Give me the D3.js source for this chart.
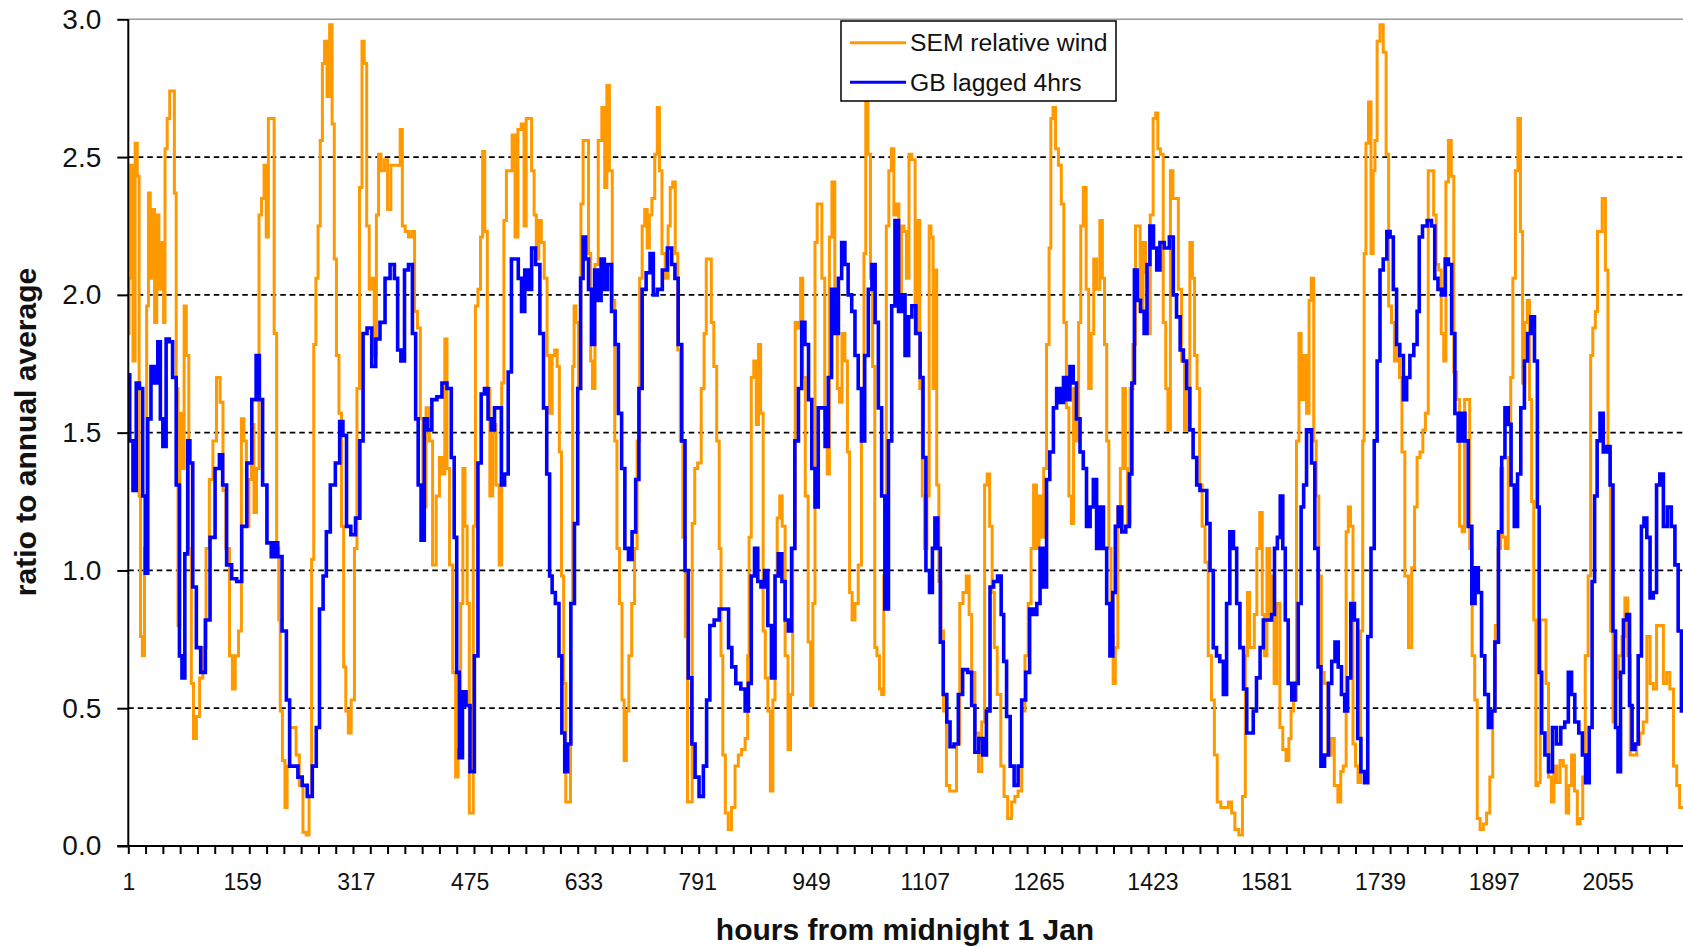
<!DOCTYPE html>
<html>
<head>
<meta charset="utf-8">
<script src="https://cdn.jsdelivr.net/npm/d3@7"></script>
<style>
  body { margin: 0; background: #fff; }
  svg { display: block; font-family: "Liberation Sans", Arial, sans-serif; }
</style>
</head>
<body>
<svg id="chart" width="1683" height="947"></svg>
<script>
// SEM relative wind — hour, ratio
const semHours = [
  1,3,6,9,12,15,17,19,22,25,28,30,33,36,39,42,45,49,51,53,57,60,64,66,69,71,74,77,80,83,87,90,93,98,
  102,107,111,116,121,126,131,134,139,144,147,152,156,160,163,167,170,174,177,181,184,188,191,194,197,
  202,205,209,211,213,217,220,223,227,232,236,241,246,250,254,257,260,263,266,269,272,275,279,282,286,
  288,292,295,299,301,305,308,313,317,320,324,327,330,334,337,341,344,347,350,354,359,363,368,373,377,
  380,383,388,392,397,400,405,408,412,417,421,426,431,435,439,442,445,449,454,457,461,464,467,470,473,
  476,479,481,485,488,492,494,498,501,505,509,514,518,521,524,528,532,536,540,544,
  549,552,555,559,563,566,569,573,576,581,584,588,591,595,598,601,604,607,610,613,617,619,621,624,628,
  631,634,638,642,644,647,651,656,661,664,667,671,675,678,681,685,688,691,694,698,702,706,709,713,716,
  720,723,726,730,734,737,740,744,749,752,755,759,762,766,769,773,776,779,782,786,789,794,799,802,805,
  809,812,816,820,823,825,828,832,836,841,846,850,855,860,862,864,868,871,875,877,881,884,887,891,894,
  898,900,904,907,911,915,919,922,925,929,933,936,939,943,947,950,953,956,959,962,966,970,973,976,980,
  984,987,990,994,998,1001,1004,1008,1012,1017,1021,1024,1026,1030,1033,1036,1039,1042,1046,1048,1052,
  1055,1059,1062,1066,1069,1073,1076,1080,1083,1087,1091,
  1096,1098,1102,1105,1108,1112,1114,1117,1120,1122,1125,1128,1131,1135,1139,1144,1149,1153,1158,1162,
  1167,1170,1174,1179,1184,1188,1192,1195,1199,1202,1205,1210,1215,1219,1225,1230,1234,1239,1244,1248,
  1253,1256,1260,1264,1267,1270,1274,1278,1281,1283,1287,1290,1295,1298,1302,1305,1309,1312,1315,1319,
  1322,1325,1329,1333,1336,1340,1343,1348,1352,1355,1358,1361,1364,1367,1370,1373,1377,1380,1384,1387,
  1390,1394,1398,1401,1404,1408,1412,1415,1418,1422,1426,1429,1432,1436,1440,1443,1446,1450,1453,1457,
  1461,1466,1469,1473,1477,1480,1483,1487,1490,1494,1498,1503,1507,1511,1515,1521,1526,1531,1535,1540,
  1546,1550,1554,1556,1560,1563,1566,1570,1574,1577,1580,1584,1588,1591,1593,1598,1602,1606,1611,1614,
  1617,1621,1625,1628,1631,1635,1639,1642,1645,
  1649,1652,1656,1659,1664,1669,1673,1678,1683,1686,1690,1694,1696,1700,1703,1707,1710,1714,1716,1718,
  1721,1725,1728,1731,1733,1737,1741,1746,1749,1753,1757,1761,1764,1768,1771,1776,1781,1785,1789,1792,
  1797,1800,1804,1808,1812,1815,1819,1822,1826,1829,1832,1836,1840,1843,1848,1851,1855,1858,1862,1865,
  1869,1872,1876,1880,1885,1889,1894,1897,1901,1905,1908,1911,1915,1919,1922,1925,1929,1932,1936,1938,
  1942,1945,1948,1951,1954,1957,1960,1963,1968,1971,1975,1979,1982,1987,1991,1996,1999,2003,2007,2011,
  2015,2019,2022,2026,2030,2033,2036,2040,2042,2045,2050,2054,2057,2061,2064,2068,2073,2077,2081,2085,
  2088,2093,2098,2102,2107,2112,2116,2121,2125,2130,2135,2139,2144,2149,2153,2157,2160
];
const semValues = [
  1.86,2.06,2.47,1.76,2.55,2.43,1.27,0.76,0.69,1.08,1.96,2.37,2.06,2.31,1.90,2.29,2.02,2.19,1.90,2.53,2.64,2.74,2.74,2.37,1.66,0.80,1.57,1.37,1.96,1.78,1.08,0.59,0.39,0.47,
  0.61,0.72,1.08,1.33,1.47,1.70,1.61,1.29,1.08,0.69,0.57,0.69,0.78,1.55,1.47,1.16,1.33,1.53,1.21,1.37,2.29,2.35,2.47,2.21,2.64,
  2.64,1.86,1.08,0.82,0.49,0.31,0.14,0.29,0.43,0.43,0.33,0.22,0.05,0.04,0.18,1.04,1.82,2.06,2.25,2.56,2.84,2.92,2.72,2.98,2.62,
  2.13,1.78,1.57,1.16,0.65,0.49,0.41,0.53,1.08,1.66,2.39,2.92,2.84,2.25,2.02,2.06,1.78,2.29,2.51,2.45,2.49,2.31,2.47,2.47,2.47,
  2.60,2.25,2.23,2.21,2.23,1.94,1.88,1.55,1.23,1.59,1.47,1.02,1.27,1.41,1.35,1.84,1.37,1.02,0.63,0.25,0.35,0.88,1.37,1.16,0.88,
  0.12,0.12,1.16,1.96,2.02,2.21,2.52,2.23,1.66,1.27,1.53,1.31,1.02,1.68,2.27,2.45,2.45,2.58,2.21,2.60,
  2.62,2.25,2.64,2.64,2.45,2.29,2.13,2.27,2.19,2.06,1.78,1.57,1.78,1.80,1.74,1.43,0.98,0.59,0.16,0.16,0.88,1.74,1.96,1.90,1.66,
  2.33,2.56,2.56,2.15,1.76,1.66,2.11,2.56,2.68,2.39,2.76,2.45,1.98,1.47,1.08,0.88,0.53,0.31,0.49,0.69,0.88,1.08,1.47,2.06,2.25,
  2.31,2.17,2.29,2.35,2.51,2.68,2.45,2.15,2.06,2.25,2.39,2.41,2.15,1.80,1.47,1.12,0.76,0.16,0.16,1.17,1.37,1.39,1.66,1.86,2.13,
  2.13,1.90,1.74,1.47,1.08,0.69,0.33,0.12,0.06,0.14,0.29,0.33,0.35,0.39,0.69,1.12,1.70,1.76,1.53,1.82,1.57,0.78,0.61,0.49,0.20,
  0.53,0.98,1.19,1.27,1.16,0.69,0.35,0.55,1.08,1.90,1.88,2.06,1.70,1.27,0.74,0.51,0.88,2.19,2.33,2.33,2.06,1.55,1.35,2.21,2.41,
  1.94,1.66,1.61,1.86,1.76,1.43,0.92,0.82,0.88,1.02,1.66,2.15,2.70,2.51,2.06,1.74,0.72,0.69,0.57,0.55,0.98,
  2.25,2.45,2.53,2.29,2.33,1.94,2.25,2.23,2.06,2.51,2.49,
  1.86,2.27,1.66,1.27,1.08,1.27,2.25,2.21,1.66,2.09,1.31,0.96,0.78,0.49,0.22,0.20,0.20,0.37,0.88,0.92,
  0.98,0.84,0.63,0.41,0.27,0.45,1.31,1.35,1.16,0.92,0.72,0.55,0.29,0.18,0.10,0.16,0.18,0.20,0.49,0.69,
  0.88,1.08,1.31,1.08,1.27,1.12,1.37,1.82,2.17,2.64,2.68,2.53,2.47,2.33,1.90,1.59,1.27,1.17,1.66,1.47,
  1.90,2.25,2.39,2.02,1.66,1.86,2.13,2.02,2.27,2.06,1.82,1.47,1.08,0.76,0.59,0.72,1.23,1.37,1.66,1.37,
  1.17,1.66,1.82,2.25,2.25,1.94,2.19,2.08,1.86,2.29,2.64,2.66,2.53,2.51,1.90,1.66,1.51,2.45,2.35,2.35,
  2.02,1.76,1.51,1.66,2.19,2.06,1.78,1.66,1.31,1.16,1.03,0.69,0.53,0.33,0.16,0.14,0.14,0.16,0.12,0.06,
  0.04,0.18,0.69,0.92,0.72,0.72,0.84,1.08,1.21,0.84,0.69,1.08,0.82,0.98,0.59,0.88,0.43,0.35,0.31,0.39,
  0.49,0.53,1.47,1.86,1.62,1.78,1.57,1.98,2.06,
  1.47,1.27,0.98,0.63,0.59,0.33,0.39,0.22,0.16,0.27,0.29,1.14,1.23,1.16,0.37,0.29,0.23,0.78,1.47,2.15,
  2.55,2.70,2.15,2.45,2.56,2.92,2.98,2.88,2.51,1.96,1.90,1.76,1.82,1.70,1.43,0.98,0.72,1.01,1.23,1.41,
  1.43,1.51,1.57,2.45,2.45,2.29,2.11,2.09,1.86,1.76,2.41,2.56,2.43,1.72,1.62,1.16,1.14,1.62,1.62,1.08,
  0.69,0.53,0.10,0.06,0.08,0.12,0.25,0.49,0.80,1.08,1.37,1.12,1.08,1.41,1.70,2.06,2.45,2.64,2.23,1.68,
  1.90,1.98,1.62,1.25,0.82,0.22,0.23,0.82,0.82,0.59,0.25,0.16,0.29,0.23,0.31,0.29,0.12,0.22,0.33,0.20,
  0.08,0.10,0.25,0.69,0.98,1.78,1.88,1.94,2.23,2.23,2.35,2.09,1.43,0.78,0.45,0.61,0.69,0.76,0.90,0.69,
  0.33,0.33,0.37,0.41,0.45,0.76,0.59,0.57,0.80,0.80,0.59,0.63,0.57,0.29,0.22,0.14,0.14
];

// GB lagged 4hrs — hour, ratio
const gbHours = [
  1,5,10,14,19,23,26,30,35,40,44,47,51,56,60,65,70,74,77,82,85,88,93,98,105,111,118,125,130,134,141,148,
  155,162,169,176,181,185,190,197,202,206,211,218,223,227,234,239,246,253,260,264,269,274,278,285,292,
  297,301,307,313,320,325,329,336,342,347,354,361,368,373,377,382,387,393,398,402,405,410,414,419,426,
  433,440,447,452,455,459,462,468,472,479,484,489,493,498,503,507,512,517,521,526,531,535,540,
  545,549,554,559,563,570,575,580,584,588,591,597,601,605,609,613,618,623,627,631,634,638,642,647,650,
  655,660,664,669,675,679,684,688,693,698,703,708,712,717,723,728,732,739,746,753,758,762,767,772,776,
  781,786,790,797,802,806,811,818,825,832,837,841,848,855,860,864,868,873,877,882,887,891,897,901,906,
  911,915,920,924,929,934,938,943,948,952,957,961,966,971,975,980,985,989,994,998,1003,1008,1012,1017,
  1021,1026,1031,1036,1040,1045,1049,1054,1059,1063,1068,1073,1077,1082,1087,1091,
  1098,1103,1106,1111,1116,1119,1123,1127,1130,1135,1140,1144,1151,1156,1163,1170,1174,1179,1185,1190,
  1195,1200,1205,1211,1215,1218,1223,1228,1234,1239,1244,1250,1255,1260,1265,1269,1274,1278,1283,1288,
  1292,1297,1302,1306,1311,1315,1320,1325,1329,1334,1339,1343,1348,1353,1357,1362,1366,1370,1373,1378,
  1383,1389,1393,1396,1400,1404,1409,1414,1417,1422,1427,1431,1436,1443,1450,1454,1459,1464,1468,1473,
  1477,1482,1487,1491,1496,1501,1505,1510,1514,1519,1524,1528,1533,1538,1542,1547,1552,1556,1561,1565,
  1570,1575,1579,1586,1591,1594,1599,1602,1606,1609,1614,1619,1623,1628,1631,1635,1639,
  1642,1646,1651,1655,1659,1665,1670,1674,1679,1683,1688,1692,1696,1701,1706,1710,1715,1720,1724,1729,
  1733,1737,1741,1746,1751,1755,1760,1764,1769,1774,1778,1783,1789,1792,1795,1801,1808,1813,1817,1822,
  1827,1832,1836,1841,1845,1850,1855,1859,1864,1869,1873,1878,1882,1887,1892,1896,1901,1906,1910,1915,
  1919,1923,1928,1932,1937,1942,1946,1951,1956,1959,1961,1966,1970,1976,1981,1987,1993,1998,2003,2007,
  2012,2018,2022,2027,2032,2035,2039,2042,2047,2051,2056,2061,2064,2068,2071,2075,2079,2084,2087,2091,
  2095,2100,2104,2107,2112,2116,2121,2125,2130,2135,2141,2146,2151,2155,2160
];
const gbValues = [
  1.71,1.47,1.29,1.68,1.66,1.27,0.99,1.55,1.74,1.68,1.83,1.55,1.45,1.84,1.83,1.70,1.31,0.69,0.61,1.06,1.47,1.39,0.94,0.72,0.63,0.82,1.12,1.37,1.42,1.31,1.02,0.97,
  0.96,1.16,1.39,1.62,1.78,1.62,1.31,1.10,1.05,1.10,1.05,0.78,0.53,0.29,0.29,0.25,0.22,0.18,0.29,0.43,0.86,0.98,1.14,1.31,1.39,
  1.54,1.49,1.16,1.13,1.19,1.47,1.86,1.88,1.74,1.84,1.90,2.06,2.11,2.06,1.80,1.76,2.09,2.11,1.86,1.55,1.31,1.11,1.55,1.51,1.62,
  1.63,1.68,1.66,1.41,1.12,0.63,0.32,0.56,0.51,0.27,0.69,1.39,1.64,1.66,1.55,1.51,1.59,1.59,1.31,1.35,1.72,2.13,2.13,
  2.06,1.94,2.09,2.02,2.17,2.11,1.86,1.59,1.35,0.98,0.92,0.88,0.69,0.41,0.27,0.37,0.88,1.17,1.66,2.06,2.21,2.13,2.02,1.82,2.09,
  1.98,2.13,2.02,2.11,1.94,1.82,1.57,1.37,1.08,1.04,1.14,1.33,1.66,2.02,2.08,2.15,2.00,2.02,2.09,2.17,2.11,2.06,1.82,1.47,1.00,
  0.61,0.37,0.25,0.18,0.29,0.53,0.80,0.82,0.86,0.86,0.72,0.65,0.59,0.57,0.49,0.59,0.98,1.08,0.96,0.94,1.00,0.80,0.61,0.98,1.06,
  0.96,0.82,0.78,1.08,1.47,1.66,1.90,1.82,1.62,1.37,1.23,1.59,1.59,1.45,1.70,2.02,1.86,2.06,2.19,2.11,2.00,1.94,1.78,1.66,
  1.47,1.78,2.02,2.11,1.90,1.59,1.27,0.86,1.47,1.96,2.27,1.94,2.00,1.78,1.92,1.96,
  1.86,1.70,1.41,1.00,0.92,1.08,1.19,1.08,0.74,0.55,0.45,0.36,0.37,0.55,0.64,0.63,0.51,0.34,0.39,0.33,
  0.49,0.94,0.96,0.98,0.84,0.67,0.47,0.29,0.22,0.29,0.53,0.63,0.86,0.84,0.88,1.08,0.94,1.33,1.43,1.59,
  1.66,1.61,1.70,1.62,1.74,1.68,1.55,1.43,1.37,1.16,1.23,1.33,1.08,1.23,1.08,0.88,0.69,0.92,1.16,1.23,
  1.14,1.16,1.35,1.68,2.09,1.98,1.94,1.86,2.11,2.25,2.17,2.09,2.19,2.17,2.21,2.00,1.92,1.80,1.76,1.66,
  1.51,1.41,1.31,1.29,1.29,1.17,1.00,0.72,0.69,0.67,0.55,0.88,1.14,1.08,0.88,0.72,0.57,0.41,0.41,0.49,
  0.61,0.72,0.82,0.82,0.84,1.08,1.12,1.27,1.08,0.82,0.59,0.53,0.59,0.88,1.23,1.31,1.51,
  1.51,1.39,1.08,0.65,0.29,0.33,0.59,0.67,0.74,0.65,0.55,0.49,0.61,0.88,0.82,0.39,0.27,0.23,0.76,1.08,
  1.47,1.76,2.09,2.13,2.23,2.21,2.02,1.82,1.78,1.62,1.70,1.78,1.82,1.94,2.21,2.25,2.27,2.25,2.06,2.02,
  2.00,2.13,2.11,1.86,1.57,1.47,1.57,1.47,1.16,0.88,1.01,0.92,0.69,0.55,0.43,0.49,0.74,1.14,1.41,1.59,
  1.53,1.31,1.16,1.35,1.59,1.76,1.86,1.92,1.76,1.23,0.63,0.41,0.33,0.27,0.43,0.37,0.43,0.45,0.63,0.55,
  0.45,0.41,0.33,0.23,0.43,0.96,1.27,1.47,1.57,1.43,1.45,1.31,0.78,0.43,0.27,0.63,0.82,0.84,0.51,0.35,
  0.37,0.69,1.16,1.19,1.12,0.90,0.92,1.31,1.35,1.16,1.23,1.16,1.02,0.78,0.49
];

const seriesNames = ['SEM relative wind', 'GB lagged 4hrs'];
const seriesColors = ['#ff9900', '#0000ff'];
const yTicks = [0, 0.5, 1, 1.5, 2, 2.5, 3];
const xLabelHours = [1, 159, 317, 475, 633, 791, 949, 1107, 1265, 1423, 1581, 1739, 1897, 2055];
const dayTicks = d3.range(1, 2161, 24);

const W = 1683, H = 947;
const plotL = 128.3, plotR = 1683.2, plotT = 19.3, plotB = 846;

const svg = d3.select('#chart');
svg.append('rect').attr('width', W).attr('height', H).attr('fill', '#fff');

const x = d3.scaleLinear().domain([1, 2160]).range([plotL, plotR]);
const y = d3.scaleLinear().domain([0, 3]).range([plotB, plotT]);

svg.append('defs').append('clipPath').attr('id', 'plot')
  .append('rect').attr('x', plotL).attr('y', plotT - 4).attr('width', W - plotL).attr('height', plotB - plotT + 4);

// gridlines (dashed) + grey top border
svg.append('g').selectAll('line').data(yTicks.filter(v => v > 0 && v < 3)).join('line')
  .attr('x1', plotL).attr('x2', W).attr('y1', d => y(d)).attr('y2', d => y(d))
  .attr('stroke', '#000').attr('stroke-width', 1.7).attr('stroke-dasharray', '5.5,4');
svg.append('line').attr('x1', plotL).attr('x2', W).attr('y1', y(3)).attr('y2', y(3))
  .attr('stroke', '#9a9a9a').attr('stroke-width', 1.5);

// lines
const plot = svg.append('g').attr('clip-path', 'url(#plot)');
const series = [
  {name: seriesNames[0], color: seriesColors[0], width: 3, pts: semHours.map((h, i) => [h, semValues[i]])},
  {name: seriesNames[1], color: seriesColors[1], width: 3.6, pts: gbHours.map((h, i) => [h, gbValues[i]])},
];
const line = d3.line().x(d => x(d[0])).y(d => y(d[1])).curve(d3.curveStep);
series.forEach(s => {
  plot.append('path').attr('d', line(s.pts))
    .attr('fill', 'none').attr('stroke', s.color).attr('stroke-width', s.width)
    .attr('stroke-linejoin', 'miter');
});

// y axis
const yAxis = svg.append('g').attr('transform', `translate(${plotL},0)`)
  .call(d3.axisLeft(y).tickValues(yTicks).tickSize(11).tickPadding(16).tickFormat(d3.format('.1f')));
yAxis.select('.domain').remove();
yAxis.selectAll('.tick line').attr('stroke', '#000').attr('stroke-width', 2);
yAxis.selectAll('.tick text').attr('font-size', 28).attr('fill', '#111')
  .attr('font-family', '"Liberation Sans", Arial, sans-serif');
svg.append('line').attr('x1', plotL).attr('x2', plotL).attr('y1', plotT).attr('y2', plotB)
  .attr('stroke', '#000').attr('stroke-width', 2);

// x axis: daily ticks + labels every 158 h
const xTicks = svg.append('g').attr('transform', `translate(0,${plotB})`)
  .call(d3.axisBottom(x).tickValues(dayTicks).tickSize(8).tickFormat(''));
xTicks.select('.domain').remove();
xTicks.selectAll('.tick line').attr('stroke', '#000').attr('stroke-width', 2);
const xLabels = svg.append('g').attr('transform', `translate(0,${plotB})`)
  .call(d3.axisBottom(x).tickValues(xLabelHours).tickSize(0).tickPadding(28).tickFormat(d3.format('d')));
xLabels.select('.domain').remove();
xLabels.selectAll('.tick text').attr('font-size', 23).attr('fill', '#111')
  .attr('font-family', '"Liberation Sans", Arial, sans-serif');
svg.append('line').attr('x1', plotL - 11).attr('x2', W).attr('y1', plotB).attr('y2', plotB)
  .attr('stroke', '#000').attr('stroke-width', 2);

// axis titles
svg.append('text').attr('x', 905).attr('y', 940).attr('text-anchor', 'middle')
  .attr('font-size', 30).attr('font-weight', 'bold').attr('fill', '#111')
  .text('hours from midnight 1 Jan');
svg.append('text').attr('transform', 'translate(36,432) rotate(-90)').attr('text-anchor', 'middle')
  .attr('font-size', 30).attr('font-weight', 'bold').attr('fill', '#111')
  .text('ratio to annual average');

// legend
const lg = svg.append('g').attr('transform', 'translate(841,21)');
lg.append('rect').attr('width', 275).attr('height', 80)
  .attr('fill', '#fff').attr('stroke', '#000').attr('stroke-width', 1.5);
series.forEach((s, i) => {
  const cy = 21.7 + i * 39.6;
  lg.append('line').attr('x1', 9).attr('x2', 65).attr('y1', cy).attr('y2', cy)
    .attr('stroke', s.color).attr('stroke-width', 3);
  lg.append('text').attr('x', 69).attr('y', cy + 8.5)
    .attr('font-size', 24.7).attr('fill', '#111').text(s.name);
});
</script>
</body>
</html>
